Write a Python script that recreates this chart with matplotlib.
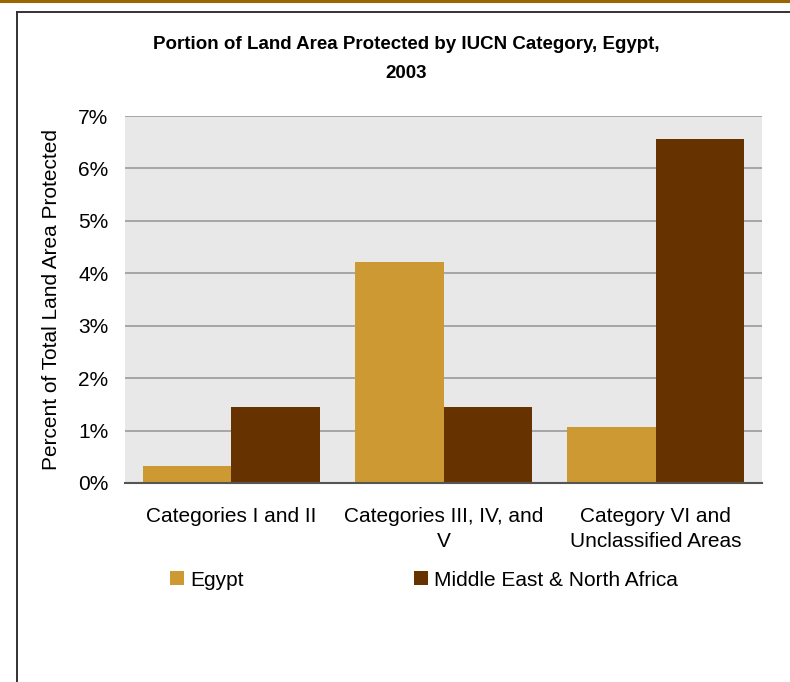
import numpy as np
import matplotlib
matplotlib.use("Agg")
import matplotlib.pyplot as plt
from matplotlib.lines import Line2D

plt.rcParams['font.family'] = ['Liberation Sans', 'DejaVu Sans']

# Data
categories = ["Categories I and II", "Categories III, IV, and\nV",
              "Category VI and\nUnclassified Areas"]
egypt = [0.32, 4.22, 1.07]
mena = [1.45, 1.45, 6.56]
series_names = ["Egypt", "Middle East & North Africa"]
yticks = [0, 1, 2, 3, 4, 5, 6, 7]

fig = plt.figure(figsize=(7.9, 6.82), dpi=100)
ax = fig.add_axes([125/790, 1-483/682, 637/790, 367/682])
ax.set_facecolor("#E8E8E8")

x = np.arange(len(categories))
w = 0.417
b1 = ax.bar(x - w/2, egypt, w, color="#CC9933", label=series_names[0], zorder=3)
b2 = ax.bar(x + w/2, mena, w, color="#663300", label=series_names[1], zorder=3)

ax.set_xlim(-0.5, 2.5)
ax.set_ylim(0, 7)
ax.set_yticks(yticks)
ax.set_yticklabels([str(t) + "%" for t in yticks], fontsize=15)
ax.set_xticks(x)
ax.set_xticklabels(categories, fontsize=15, linespacing=1.45)
ax.tick_params(axis="y", length=0, pad=12)
ax.tick_params(axis="x", length=0, pad=17)
ax.grid(axis="y", color="#A0A0A0", linewidth=1.3, zorder=1)
for s in ["top", "right", "left"]:
    ax.spines[s].set_visible(False)
ax.spines["bottom"].set_color("#555555")
ax.spines["bottom"].set_linewidth(1.5)
ax.spines["bottom"].set_zorder(4)

ax.set_ylabel("Percent of Total Land Area Protected", fontsize=15, labelpad=12)

fig.text(406/790, 1-59/682, "Portion of Land Area Protected by IUCN Category, Egypt,\n2003",
         ha="center", va="center", fontsize=13.5, fontweight="bold", linespacing=1.85)

fig.legend(handles=[b1, b2], labels=series_names, loc="center left",
           bbox_to_anchor=(170/790, 1-580/682), ncol=2, frameon=False,
           fontsize=15, handlelength=0.65, handleheight=0.65, handletextpad=0.3,
           columnspacing=8.2, borderaxespad=0, borderpad=0)

# frame lines around the chart
fig.add_artist(Line2D([0, 1], [1-1/682, 1-1/682], color="#996600", linewidth=2.2))
fig.add_artist(Line2D([16.5/790, 16.5/790], [0, 1-12/682], color="#333333", linewidth=1.4))
fig.add_artist(Line2D([16.5/790, 1], [1-12/682, 1-12/682], color="#333333", linewidth=1.4))

fig.savefig("out.png", dpi=100)
